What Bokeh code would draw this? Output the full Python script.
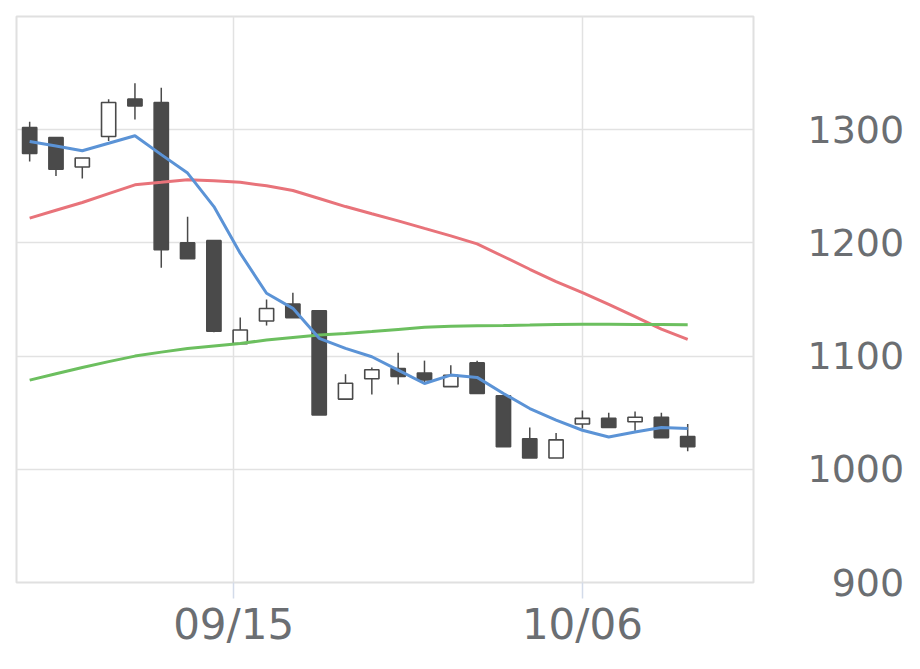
from bokeh.plotting import figure
from bokeh.models import FixedTicker, ColumnDataSource
from bokeh.embed import file_html
from bokeh.resources import INLINE

idx = list(range(26))
opens  = [1302, 1293, 1267, 1294, 1327, 1324, 1200, 1202, 1111, 1131, 1146, 1140, 1062, 1080, 1089, 1085, 1073, 1094, 1065, 1027, 1010, 1040, 1045, 1042, 1046, 1029]
closes = [1279, 1265, 1275, 1324, 1321, 1194, 1186, 1122, 1123, 1142, 1134, 1048, 1076, 1088, 1082, 1079, 1083, 1067, 1020, 1010, 1026, 1045, 1037, 1046, 1028, 1020]
highs  = [1307, 1293, 1275, 1327, 1341, 1337, 1223, 1202, 1134, 1150, 1156, 1140, 1084, 1090, 1103, 1096, 1092, 1096, 1065, 1037, 1032, 1052, 1050, 1051, 1050, 1040]
lows   = [1272, 1259, 1257, 1290, 1309, 1178, 1186, 1121, 1111, 1127, 1134, 1048, 1062, 1066, 1075, 1077, 1073, 1067, 1020, 1010, 1010, 1036, 1037, 1034, 1028, 1016]

ma5  = [1289.6, 1285.6, 1281.4, 1288.0, 1294.7, 1278.0, 1261.7, 1232.1, 1190.9, 1155.5, 1142.2, 1115.7, 1106.8,
        1099.4, 1087.6, 1075.8, 1083.2, 1081.2, 1067.0, 1053.7, 1043.4, 1034.5, 1028.6, 1033.0, 1036.9, 1036.0]
ma25 = [1221.9, 1228.8, 1235.7, 1243.5, 1251.3, 1253.5, 1255.8, 1254.9, 1253.5, 1250.4, 1246.3, 1239.2, 1232.1,
        1225.7, 1219.5, 1212.8, 1206.2, 1199.1, 1188.0, 1176.7, 1165.8, 1156.0, 1145.6, 1134.8, 1123.9, 1114.8]
ma75 = [1078.8, 1084.4, 1090.0, 1095.1, 1100.0, 1103.5, 1106.8, 1109.0, 1111.2, 1114.2, 1116.4, 1118.6, 1119.9,
        1121.7, 1123.6, 1125.4, 1126.3, 1126.8, 1127.0, 1127.4, 1127.9, 1128.1, 1128.1, 1128.0, 1127.9, 1127.7]

x_tick_pos = [7.75, 21]
x_tick_labels = ["09/15", "10/06"]
y_ticks = [900, 1000, 1100, 1200, 1300]

up = [c >= o for o, c in zip(opens, closes)]
src = ColumnDataSource(dict(
    x=idx, open=opens, close=closes, high=highs, low=lows,
    top=[max(o, c) for o, c in zip(opens, closes)],
    bottom=[min(o, c) for o, c in zip(opens, closes)],
    fill=["white" if u else "#4a4a4a" for u in up],
))

p = figure(frame_width=737, frame_height=566, output_backend="svg", toolbar_location=None,
           x_range=(-0.5, 27.5), y_range=(900, 1400), y_axis_location="right",
           min_border_left=16, min_border_top=16, min_border_right=151, min_border_bottom=71)

p.outline_line_color = "#e0e0e0"
p.outline_line_width = 2
p.background_fill_color = "white"
p.border_fill_color = "white"

grid_color = "#e2e2e2"
p.xgrid.ticker = FixedTicker(ticks=x_tick_pos)
p.ygrid.ticker = FixedTicker(ticks=y_ticks)
p.xgrid.grid_line_color = grid_color
p.ygrid.grid_line_color = grid_color
p.xgrid.grid_line_width = 1.5
p.ygrid.grid_line_width = 1.5

xa = p.xaxis[0]
xa.ticker = FixedTicker(ticks=x_tick_pos)
xa.major_label_overrides = {x_tick_pos[i]: x_tick_labels[i] for i in range(len(x_tick_pos))}
xa.axis_line_color = None
xa.major_tick_line_color = "#d3dbe9"
xa.major_tick_line_width = 1.5
xa.major_tick_out = 16
xa.major_tick_in = 0
xa.minor_tick_line_color = None
xa.major_label_text_font = "DejaVu Sans"
xa.major_label_text_font_size = "42px"
xa.major_label_text_color = "#6b6e72"
xa.major_label_standoff = 1

ya = p.yaxis[0]
ya.ticker = FixedTicker(ticks=y_ticks)
ya.major_label_overrides = {900: "\u2007900"}
ya.axis_line_color = None
ya.major_tick_line_color = None
ya.minor_tick_line_color = None
ya.major_label_text_font = "DejaVu Sans"
ya.major_label_text_font_size = "38px"
ya.major_label_text_color = "#6b6e72"
ya.major_label_standoff = 48

dark = "#4a4a4a"
p.segment(x0="x", y0="high", x1="x", y1="low", source=src, line_color=dark, line_width=1.5)
p.vbar(x="x", top="top", bottom="bottom", width=0.54, source=src,
       fill_color="fill", line_color=dark, line_width=1.6)

p.line(idx, ma25, line_color="#e8737a", line_width=3)
p.line(idx, ma75, line_color="#6cbf5f", line_width=3)
p.line(idx, ma5, line_color="#5b93d6", line_width=3)

open("out.html", "w").write(file_html(p, INLINE))
